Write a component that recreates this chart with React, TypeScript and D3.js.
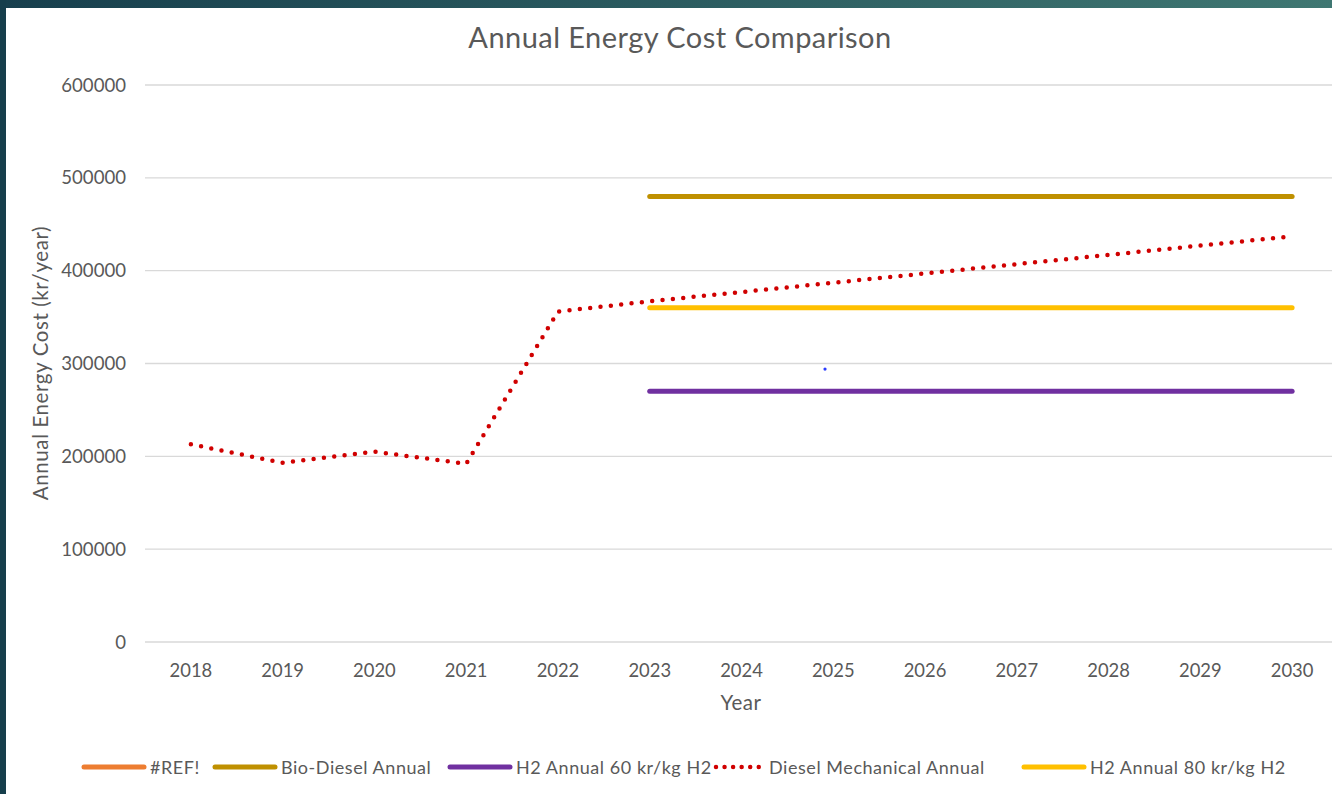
import React from "react";
import * as d3 from "d3";

const years = [2018, 2019, 2020, 2021, 2022, 2023, 2024, 2025, 2026, 2027, 2028, 2029, 2030];
const yTicks = [0, 100000, 200000, 300000, 400000, 500000, 600000];

const dieselYears = [2018, 2019, 2020, 2021, 2022, 2023, 2024, 2025, 2026, 2027, 2028, 2029, 2030];
const dieselValues = [213000, 193000, 205000, 192000, 356000, 367000, 377000, 387000, 397000, 407000, 417000, 427000, 437000];

const flatYears = [2023, 2024, 2025, 2026, 2027, 2028, 2029, 2030];
const bioDieselValues = [480000, 480000, 480000, 480000, 480000, 480000, 480000, 480000];
const h2At60Values = [270000, 270000, 270000, 270000, 270000, 270000, 270000, 270000];
const h2At80Values = [360000, 360000, 360000, 360000, 360000, 360000, 360000, 360000];

const strayPoint = { year: 2024.91, value: 294000 };

const legendItems = [
  { name: "#REF!", color: "#ED7D31", dotted: false },
  { name: "Bio-Diesel Annual", color: "#BF9000", dotted: false },
  { name: "H2 Annual 60 kr/kg H2", color: "#7030A0", dotted: false },
  { name: "Diesel Mechanical Annual", color: "#D00000", dotted: true },
  { name: "H2 Annual 80 kr/kg H2", color: "#FFC000", dotted: false },
];

const W = 1332;
const H = 794;
const FONT = "Lato, 'Open Sans', sans-serif";
const TXT = "#595959";

export default function App() {
  const plotLeft = 145;
  const plotRight = 1338;
  const band = (plotRight - plotLeft) / years.length;
  const x = d3
    .scaleLinear()
    .domain([years[0], years[years.length - 1]])
    .range([plotLeft + band / 2, plotRight - band / 2]);
  const y = d3.scaleLinear().domain([0, 600000]).range([642, 85]);

  const line = d3
    .line<[number, number]>()
    .x((d) => x(d[0]))
    .y((d) => y(d[1]));

  const diesel = line(dieselYears.map((yr, i) => [yr, dieselValues[i]]));
  const bio = line(flatYears.map((yr, i) => [yr, bioDieselValues[i]]));
  const h60 = line(flatYears.map((yr, i) => [yr, h2At60Values[i]]));
  const h80 = line(flatYears.map((yr, i) => [yr, h2At80Values[i]]));

  const legendY = 767;
  const legendPositions = [82, 213, 448, 715, 1022];

  return (
    <svg
      width={W}
      height={H}
      style={{ position: "absolute", left: 0, top: 0, display: "block" }}
      fontFamily={FONT}
    >
      <defs>
        <linearGradient id="topbar" x1="0" x2="1" y1="0" y2="0">
          <stop offset="0" stopColor="#173f4d" />
          <stop offset="1" stopColor="#3f7772" />
        </linearGradient>
      </defs>
      <rect x={0} y={0} width={W} height={H} fill="#ffffff" />
      <rect x={0} y={0} width={W} height={8} fill="url(#topbar)" />
      <rect x={0} y={0} width={6} height={H} fill="#163e4c" />

      <text x={680} y={48} textAnchor="middle" fontSize={29} letterSpacing={0.45} fill={TXT}>
        Annual Energy Cost Comparison
      </text>

      {yTicks.map((t) => (
        <g key={t}>
          <line x1={plotLeft} x2={W} y1={y(t)} y2={y(t)} stroke="#d9d9d9" strokeWidth={1.3} />
          <text x={126} y={y(t) + 6.5} textAnchor="end" fontSize={18.6} fill={TXT}>
            {t}
          </text>
        </g>
      ))}

      {years.map((yr) => (
        <text key={yr} x={x(yr)} y={677} textAnchor="middle" fontSize={18.4} fill={TXT}>
          {yr}
        </text>
      ))}

      <text x={741} y={710} textAnchor="middle" fontSize={20.5} letterSpacing={0.5} fill={TXT}>
        Year
      </text>
      <text
        transform={`translate(48, 363) rotate(-90)`}
        textAnchor="middle"
        fontSize={20.5}
        letterSpacing={0.6}
        fill={TXT}
      >
        Annual Energy Cost (kr/year)
      </text>

      <g>
        <path d={bio || ""} fill="none" stroke="#BF9000" strokeWidth={5} strokeLinecap="round" />
        <path d={h60 || ""} fill="none" stroke="#7030A0" strokeWidth={5} strokeLinecap="round" />
        <path d={h80 || ""} fill="none" stroke="#FFC000" strokeWidth={5} strokeLinecap="round" />
        <path
          d={diesel || ""}
          fill="none"
          stroke="#D00000"
          strokeWidth={4.5}
          strokeLinecap="round"
          strokeDasharray="0 10.4"
        />
        <circle cx={x(strayPoint.year)} cy={y(strayPoint.value)} r={1.6} fill="#2b3cff" />
      </g>

      {legendItems.map((it, i) => {
        const lx = legendPositions[i];
        return (
          <g key={it.name}>
            {it.dotted ? (
              <line
                x1={lx + 1}
                x2={lx + 44}
                y1={legendY}
                y2={legendY}
                stroke={it.color}
                strokeWidth={4.5}
                strokeLinecap="round"
                strokeDasharray="0 8.55"
              />
            ) : (
              <line
                x1={lx + 2}
                x2={lx + 62}
                y1={legendY}
                y2={legendY}
                stroke={it.color}
                strokeWidth={5}
                strokeLinecap="round"
              />
            )}
            <text
              x={it.dotted ? lx + 54 : lx + 68}
              y={legendY + 6.5}
              fontSize={18}
              letterSpacing={0.55}
              fill={TXT}
            >
              {it.name}
            </text>
          </g>
        );
      })}
    </svg>
  );
}
